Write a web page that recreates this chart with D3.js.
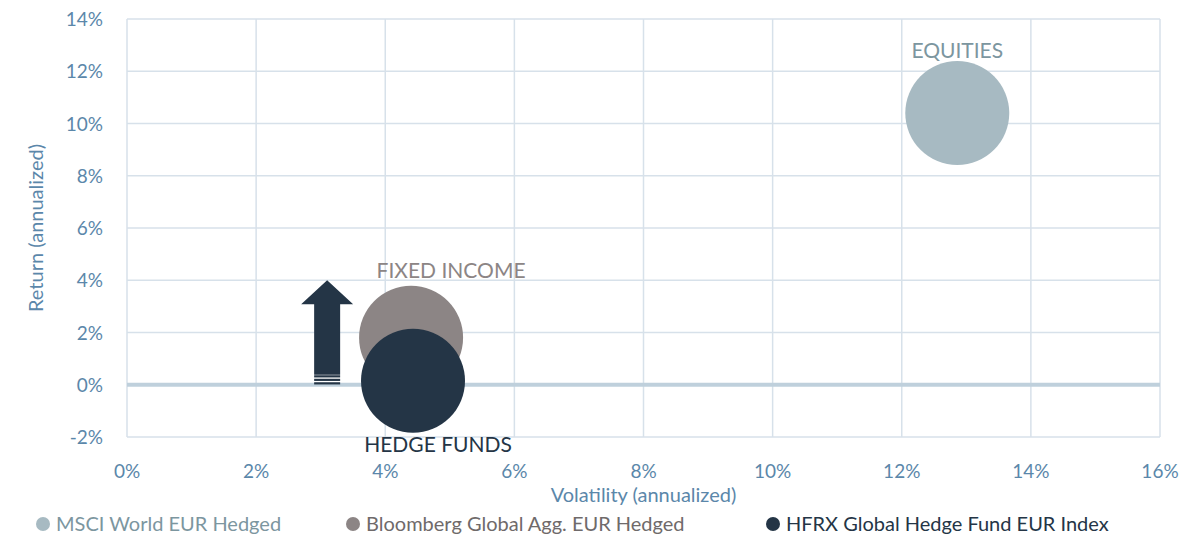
<!DOCTYPE html>
<html><head><meta charset="utf-8">
<script src="https://cdn.jsdelivr.net/npm/d3@7"></script>
<style>body{margin:0;background:#fff}text{font-family:Lato,"Open Sans",sans-serif}</style>
</head><body><svg id="c" width="1200" height="545"></svg>
<script>
const names=["EQUITIES","FIXED INCOME","HEDGE FUNDS"];
const legendNames=["MSCI World EUR Hedged","Bloomberg Global Agg. EUR Hedged","HFRX Global Hedge Fund EUR Index"];
const volatility=[12.86,4.40,4.43];
const returns=[10.4,1.8,0.15];
const colors=["#a7bac2","#8c8585","#243546"];
const labelColors=["#7c969f","#8c8585","#243546"];
const xTicks=[0,2,4,6,8,10,12,14,16];
const yTicks=[-2,0,2,4,6,8,10,12,14];
const arrowX=3.1, arrowFrom=0, arrowTo=4;

const svg=d3.select("#c");
const x=d3.scaleLinear().domain([0,16]).range([127,1160]);
const y=d3.scaleLinear().domain([-2,14]).range([437,19]);
const r=52;
const axisCol="#5b87aa";
const g=svg.append("g");
g.selectAll(".vx").data(xTicks).join("line").attr("x1",d=>x(d)).attr("x2",d=>x(d)).attr("y1",y(14)).attr("y2",y(-2)).attr("stroke","#d7e1ea").attr("stroke-width",1.5);
g.selectAll(".hy").data(yTicks).join("line").attr("x1",x(0)).attr("x2",x(16)).attr("y1",d=>y(d)).attr("y2",d=>y(d)).attr("stroke","#d7e1ea").attr("stroke-width",1.5);
g.append("line").attr("x1",x(0)).attr("x2",x(16)).attr("y1",y(0)).attr("y2",y(0)).attr("stroke","#bfd0dc").attr("stroke-width",4);
g.selectAll(".xl").data(xTicks).join("text").attr("x",d=>x(d)).attr("y",478).attr("text-anchor","middle").attr("fill",axisCol).attr("font-size",19).text(d=>d+"%");
g.selectAll(".yl").data(yTicks).join("text").attr("x",103).attr("y",d=>y(d)+7).attr("text-anchor","end").attr("fill",axisCol).attr("font-size",19).text(d=>d+"%");
svg.append("text").attr("x",x(8)).attr("y",502).attr("text-anchor","middle").attr("fill",axisCol).attr("font-size",20).text("Volatility (annualized)");
svg.append("text").attr("transform","translate(43,"+y(6)+") rotate(-90)").attr("text-anchor","middle").attr("fill",axisCol).attr("font-size",20).text("Return (annualized)");

// arrow
const ax=x(arrowX), y0=y(arrowFrom), y1=y(arrowTo);
const sw=13, hw=26, hh=24;
svg.append("path").attr("d",`M${ax-sw},${y0-10} L${ax-sw},${y1+hh} L${ax-hw},${y1+hh} L${ax},${y1} L${ax+hw},${y1+hh} L${ax+sw},${y1+hh} L${ax+sw},${y0-10} Z`).attr("fill","#243546");
[-8,-4.5,-1].forEach(o=>svg.append("rect").attr("x",ax-sw).attr("y",y0+o-1.5).attr("width",sw*2).attr("height",2.2).attr("fill","#243546"));

svg.selectAll(".b").data(names).join("circle").attr("cx",(d,i)=>x(volatility[i])).attr("cy",(d,i)=>y(returns[i])).attr("r",r).attr("fill",(d,i)=>colors[i]);
const lp=[[0,-55],[40,-60],[25,71]];
svg.selectAll(".nl").data(names).join("text").attr("x",(d,i)=>x(volatility[i])+lp[i][0]).attr("y",(d,i)=>y(returns[i])+lp[i][1]).attr("text-anchor","middle").attr("fill",(d,i)=>labelColors[i]).attr("font-size",21).text(d=>d);

const lx=[38,348,768];
const leg=svg.selectAll(".lg").data(legendNames).join("g").attr("transform",(d,i)=>`translate(${lx[i]},524)`);
leg.append("circle").attr("cx",5).attr("cy",0).attr("r",7).attr("fill",(d,i)=>colors[i]);
leg.append("text").attr("x",18).attr("y",7).attr("fill",(d,i)=>i==0?"#7c969f":i==1?"#6f6a6a":"#243546").attr("font-size",20).text(d=>d);
</script></body></html>
